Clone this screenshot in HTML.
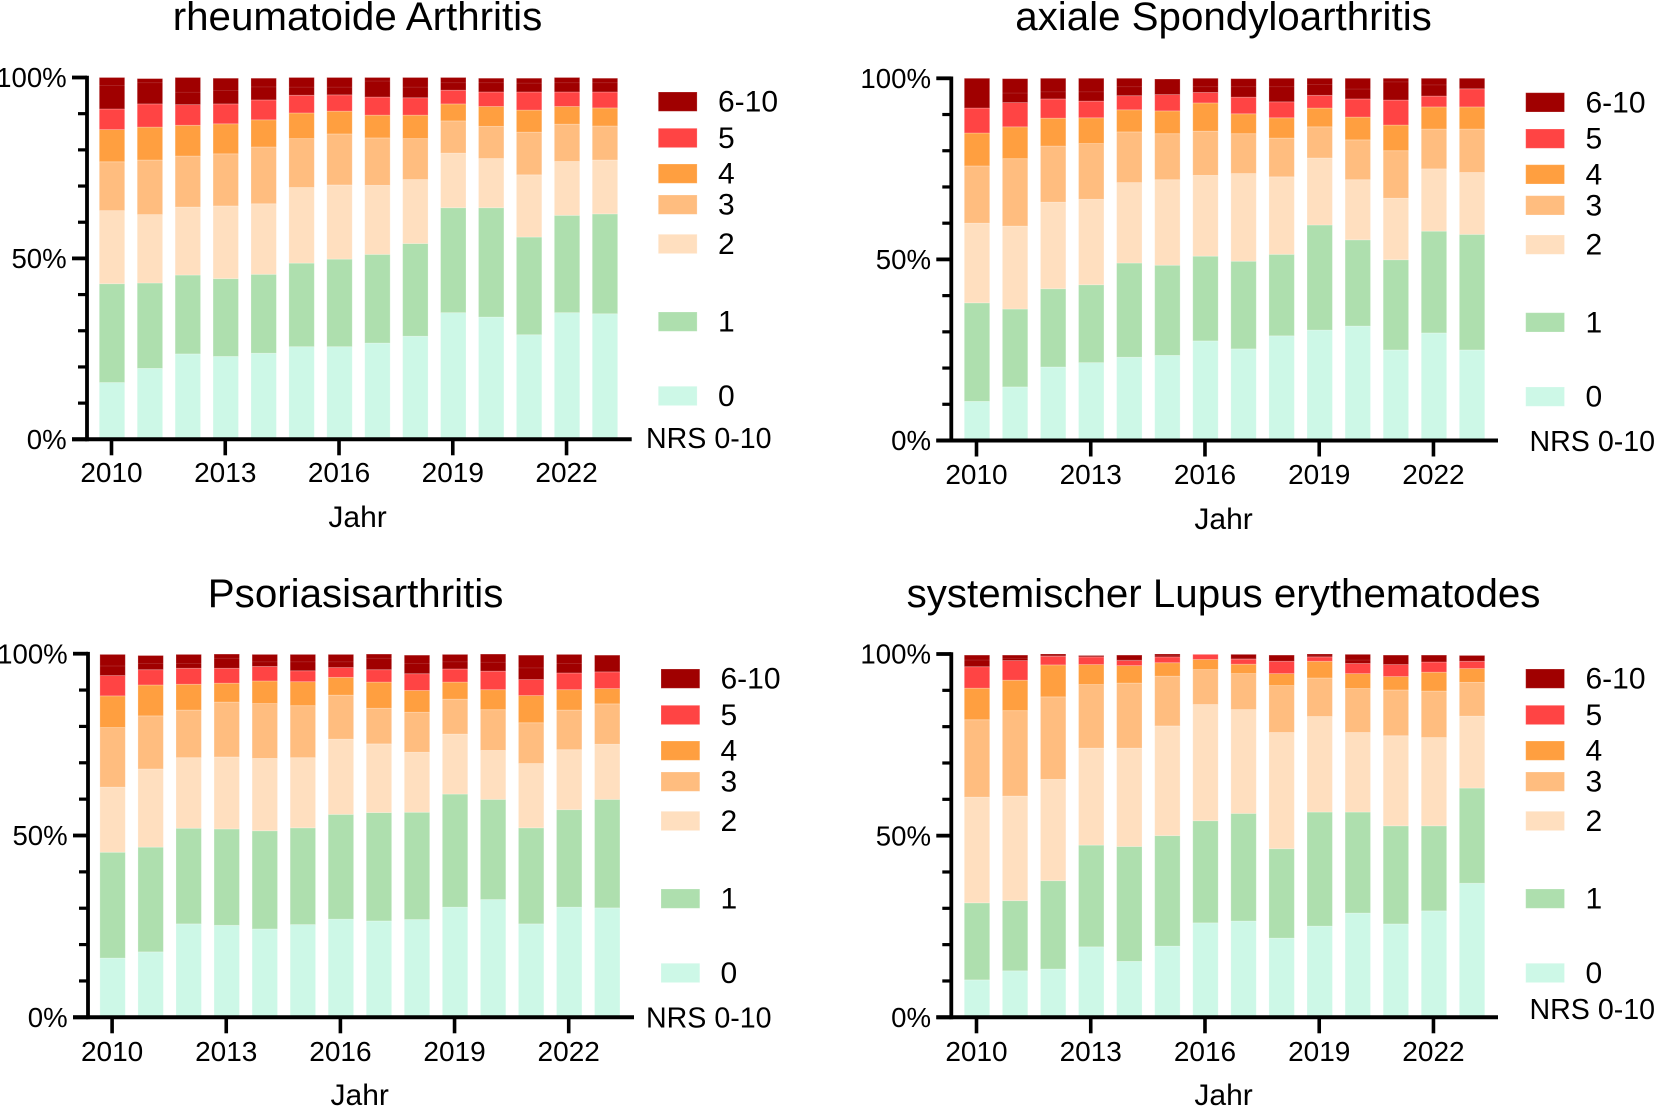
<!DOCTYPE html>
<html lang="de">
<head>
<meta charset="utf-8">
<title>NRS 0-10 nach Jahr</title>
<style>
html,body{margin:0;padding:0;background:#fff;}
svg{display:block;}
text{font-family:"Liberation Sans",Arial,sans-serif;fill:#000;}
</style>
</head>
<body>
<svg id="figure" xmlns="http://www.w3.org/2000/svg" width="1654" height="1108" viewBox="0 0 1654 1108"></svg>
<script>
// Shared categories, tick labels and legend labels
const years = [2010,2011,2012,2013,2014,2015,2016,2017,2018,2019,2020,2021,2022,2023];
const xTickYears = [2010,2013,2016,2019,2022];
const yTickValues = [0,10,20,30,40,50,60,70,80,90,100];
const yTickLabels = {0:"0%",50:"50%",100:"100%"};
const seriesLabels = ["0","1","2","3","4","5","6-10"];
const seriesColors = ["#CDF8E7","#AEDFAE","#FFDFBF","#FFBD7F","#FF9F40","#FF4444","#A00000"];

// Cumulative percentage at the top of each stacked class
// Rheumatoide Arthritis
const raCum0 = [15.7,19.6,23.6,22.9,23.8,25.6,25.6,26.6,28.5,35.0,33.8,28.9,35.0,34.7];
const raCum1 = [43.0,43.2,45.4,44.4,45.6,48.7,49.8,51.1,54.1,64.0,64.0,55.9,61.9,62.3];
const raCum2 = [63.2,62.1,64.2,64.5,65.1,69.6,70.3,70.2,71.8,79.1,77.6,73.1,76.8,77.2];
const raCum3 = [76.7,77.2,78.3,78.9,80.8,83.1,84.4,83.3,83.1,88.0,86.5,84.9,87.1,86.6];
const raCum4 = [85.6,86.3,86.8,87.2,88.3,90.2,90.7,89.6,89.6,92.7,92.0,91.0,92.0,91.6];
const raCum5 = [91.3,92.7,92.5,92.7,93.8,95.1,95.2,94.6,94.4,96.5,96.0,96.0,96.0,96.0];
const raCum6 = [100,99.7,100,99.8,99.8,100,100,100,100,100,99.8,99.8,100,99.8];
const raInner = [97.8,98.6,95.9,96.4,97.4,97.3,97.3,99.0,97.3,98.6,98.6,98.4,98.6,98.6];

// Axiale Spondyloarthritis
const axCum0 = [10.8,14.8,20.3,21.5,23.0,23.5,27.5,25.3,28.9,30.5,31.6,25.0,29.7,25.0];
const axCum1 = [38.0,36.3,41.9,43.0,49.0,48.4,50.9,49.5,51.4,59.5,55.4,49.9,57.8,56.9];
const axCum2 = [60.0,59.2,65.8,66.6,71.2,72.0,73.2,73.7,72.8,78.0,72.0,66.9,75.0,74.0];
const axCum3 = [75.8,77.8,81.3,82.0,85.2,84.7,85.4,84.7,83.5,86.6,83.0,80.0,86.0,86.0];
const axCum4 = [84.9,86.6,89.0,89.1,91.3,91.0,93.2,90.2,89.1,91.8,89.3,87.1,92.1,92.1];
const axCum5 = [91.8,93.3,94.3,93.7,95.2,95.5,96.1,94.8,93.5,95.3,94.3,94.0,95.1,97.1];
const axCum6 = [100,99.9,100,100,100,99.8,100,99.9,100,100,100,100,100,100];
const axInner = [null,95.9,96.3,96.3,97.7,null,97.7,97.7,97.7,98.3,97.0,99.0,98.2,null];

// Psoriasisarthritis
const psCum0 = [16.3,18.0,25.7,25.3,24.3,25.5,27.0,26.5,26.9,30.3,32.4,25.7,30.3,30.1];
const psCum1 = [45.4,46.8,52.0,51.8,51.3,52.1,55.8,56.3,56.4,61.4,59.9,52.1,57.1,59.9];
const psCum2 = [63.3,68.3,71.4,71.6,71.2,71.4,76.5,75.2,72.9,77.9,73.4,69.8,73.6,75.1];
const psCum3 = [79.7,82.9,84.5,86.7,86.3,85.7,88.6,85.0,83.9,87.5,84.6,81.0,84.5,86.2];
const psCum4 = [88.4,91.4,91.6,91.9,92.5,92.3,93.5,92.2,89.9,92.2,90.1,88.5,90.1,90.4];
const psCum5 = [94.0,95.6,96.0,96.0,96.5,95.3,96.2,95.6,94.5,95.8,95.2,92.9,94.7,95.0];
const psCum6 = [99.8,99.5,99.8,99.9,99.8,99.8,99.8,99.9,99.6,99.8,99.9,99.6,99.8,99.6];
const psInner = [96.6,97.3,97.3,98.7,97.8,97.8,97.8,98.7,97.3,97.8,97.6,96.1,97.3,null];

// Systemischer Lupus erythematodes
const slCum0 = [10.3,12.8,13.3,19.4,15.4,19.6,26.0,26.5,21.8,25.1,28.7,25.7,29.3,36.9];
const slCum1 = [31.5,32.1,37.6,47.4,47.0,50.0,54.1,56.1,46.4,56.5,56.5,52.7,52.7,63.1];
const slCum2 = [60.6,60.9,65.5,74.1,74.1,80.2,86.1,84.7,78.4,82.8,78.4,77.5,77.0,82.9];
const slCum3 = [81.9,84.4,88.2,91.6,92.0,93.9,95.7,94.6,91.3,93.4,90.5,90.1,89.8,92.2];
const slCum4 = [90.6,92.8,97.0,97.1,96.8,97.6,98.5,97.2,94.6,98.0,94.6,93.8,95.0,96.0];
const slCum5 = [96.5,98.2,99.4,99.2,98.2,99.2,99.9,98.6,98.0,99.2,97.4,97.1,97.8,98.0];
const slCum6 = [99.7,99.7,100,99.6,99.7,100,99.9,99.9,99.7,100,99.9,99.7,99.7,99.6];
const slInner = [98.3,98.8,99.6,99.5,98.3,99.6,null,98.8,null,99.5,98.3,null,null,null];

const NS = "http://www.w3.org/2000/svg";
const root = document.getElementById("figure");

function make(parent, tag, attrs, txt) {
  const el = document.createElementNS(NS, tag);
  for (const k in attrs) el.setAttribute(k, attrs[k]);
  if (txt !== undefined) el.textContent = txt;
  parent.appendChild(el);
  return el;
}

function drawPanel(p) {
  const g = make(root, "g", {});
  
  

  const yScale = v => p.y0 - (v / 100) * (p.y0 - p.y100);
  const xScale = yr => p.barX + (yr - years[0]) * p.step;
  const barW = 25.4;

  // Title
  const title = make(g, "text", {x: p.titleX, y: p.titleY, "text-anchor": "middle", "font-size": 40.3}, p.title);
  
  

  // Bars
  years.forEach((yr, i) => {
    const bg = make(g, "g", {});
    
    
    let prev = 0;
    p.cum.forEach((series, s) => {
      const top = series[i];
      const seg = make(bg, "rect", {
        x: xScale(yr) - barW / 2,
        y: yScale(top),
        width: barW,
        height: Math.max(0, yScale(prev) - yScale(top)),
        fill: seriesColors[s],
        stroke: "rgba(255,255,255,0.28)",
        "stroke-width": 0.8
      });
      
      
      prev = top;
    });
    // Faint divider inside the dark 6-10 block
    if (p.inner[i] !== null) {
      const div = make(bg, "line", {
        x1: xScale(yr) - barW / 2,
        x2: xScale(yr) + barW / 2,
        y1: yScale(p.inner[i]),
        y2: yScale(p.inner[i]),
        stroke: "rgba(255,255,255,0.12)",
        "stroke-width": 1
      });
      
      
    }
  });

  // Y axis
  const yAxis = make(g, "g", {});
  
  
  make(yAxis, "line", {x1: p.axisX, x2: p.axisX, y1: yScale(100) - 1.8, y2: yScale(0) + 2, stroke: "#000", "stroke-width": 3.8});
  yTickValues.forEach(v => {
    const major = v in yTickLabels;
    const tick = make(yAxis, "line", {
      x1: p.axisX - (major ? 15 : 9),
      x2: p.axisX,
      y1: yScale(v),
      y2: yScale(v),
      stroke: "#000",
      "stroke-width": major ? 3.8 : 3.2
    });
    
    
    if (major) {
      const lab = make(yAxis, "text", {x: p.axisX - 20.3, y: yScale(v) + 9.7, "text-anchor": "end", "font-size": 27.6}, yTickLabels[v]);
      
      
    }
  });

  // X axis
  const xAxis = make(g, "g", {});
  
  
  make(xAxis, "line", {x1: p.axisX - 15, x2: p.axisEnd, y1: yScale(0), y2: yScale(0), stroke: "#000", "stroke-width": 4});
  xTickYears.forEach(yr => {
    const tick = make(xAxis, "line", {x1: xScale(yr) - 0.5, x2: xScale(yr) - 0.5, y1: yScale(0), y2: yScale(0) + 16, stroke: "#000", "stroke-width": 3.6});
    
    
    const lab = make(xAxis, "text", {x: xScale(yr) - 0.5, y: p.yearY, "text-anchor": "middle", "font-size": 28}, String(yr));
    
    
  });
  const xTitle = make(g, "text", {x: p.jahrX, y: p.jahrY, "text-anchor": "middle", "font-size": 30}, "Jahr");
  
  

  // Legend (top to bottom: 6-10 ... 0)
  const lg = make(g, "g", {});
  
  
  const offsets = [0, 36.3, 72, 103, 142.3, 220, 294.3];
  offsets.forEach((off, k) => {
    const s = seriesLabels.length - 1 - k;
    const entry = make(lg, "g", {});
    
    
    make(entry, "rect", {x: p.legX, y: p.legY + off, width: 38.8, height: 19.3, fill: seriesColors[s], stroke: "rgba(255,255,255,0.28)", "stroke-width": 0.8});
    make(entry, "text", {x: p.legTextX, y: p.legY + off + 19.6, "font-size": 30}, seriesLabels[s]);
  });
  const nrs = make(lg, "text", {x: p.nrsX, y: p.nrsY, "font-size": 28.6}, "NRS 0-10");
  
  
}

drawPanel({id:"rheumatoide-arthritis", title:"rheumatoide Arthritis", titleX:357.5, titleY:30,
  cum:[raCum0,raCum1,raCum2,raCum3,raCum4,raCum5,raCum6], inner:raInner,
  y0:439.3, y100:77.5, axisX:87, axisEnd:631.7, barX:112, step:37.92,
  yearY:482, jahrX:357.6, jahrY:527, legX:658.3, legY:92, legTextX:718, nrsX:646, nrsY:448});

drawPanel({id:"axiale-spondyloarthritis", title:"axiale Spondyloarthritis", titleX:1223.5, titleY:30,
  cum:[axCum0,axCum1,axCum2,axCum3,axCum4,axCum5,axCum6], inner:axInner,
  y0:440.5, y100:78.3, axisX:951.3, axisEnd:1498, barX:977, step:38.08,
  yearY:484, jahrX:1223.6, jahrY:529, legX:1525.7, legY:92.7, legTextX:1585.5, nrsX:1529.5, nrsY:451});

drawPanel({id:"psoriasisarthritis", title:"Psoriasisarthritis", titleX:355.6, titleY:607,
  cum:[psCum0,psCum1,psCum2,psCum3,psCum4,psCum5,psCum6], inner:psInner,
  y0:1017.3, y100:653.7, axisX:88, axisEnd:634, barX:112.6, step:38.05,
  yearY:1061, jahrX:359.7, jahrY:1105, legX:661, legY:669, legTextX:720.5, nrsX:646, nrsY:1027.7});

drawPanel({id:"systemischer-lupus", title:"systemischer Lupus erythematodes", titleX:1223.5, titleY:607,
  cum:[slCum0,slCum1,slCum2,slCum3,slCum4,slCum5,slCum6], inner:slInner,
  y0:1017.3, y100:654, axisX:951.3, axisEnd:1498, barX:977, step:38.08,
  yearY:1061, jahrX:1223.6, jahrY:1105, legX:1525.7, legY:669, legTextX:1585.5, nrsX:1529.5, nrsY:1019});
</script>
</body>
</html>
